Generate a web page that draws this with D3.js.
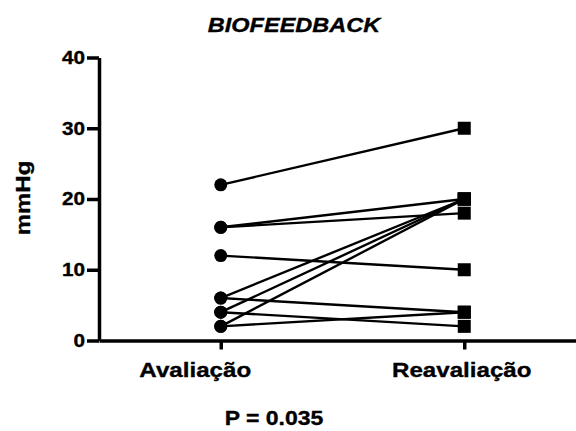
<!DOCTYPE html>
<html>
<head>
<meta charset="utf-8">
<script src="https://cdn.jsdelivr.net/npm/d3@7"></script>
<style>
  body { margin: 0; background: #fff; }
  text { font-family: "Liberation Sans", Arial, sans-serif; font-weight: bold; fill: #000; stroke: #000; stroke-width: 0.35px; }
</style>
</head>
<body>
<script>
// Data
const groups = ["Avaliação", "Reavaliação"];
const avaliacao   = [22, 16, 16, 12, 6, 4, 2, 6, 4, 2];
const reavaliacao = [30, 20, 18, 10, 20, 20, 20, 4, 2, 4];
const yTicks = [0, 10, 20, 30, 40];

const width = 576, height = 431;
const stretch = 1.15; // source image is a bit wider than tall

const svg = d3.select("body").append("svg")
    .attr("width", width)
    .attr("height", height);

// scales
const x = d3.scalePoint().domain(groups).range([99, 586]).padding(0.5);
const y = d3.scaleLinear().domain([0, 40]).range([340.5, 57.5]);

// pairs of values, one per subject
const pairs = avaliacao.map((v, i) => [
    { g: groups[0], v: v },
    { g: groups[1], v: reavaliacao[i] }
]);

// x axis
const xAxis = svg.append("g")
    .attr("transform", `translate(0,${y(0)})`)
    .call(d3.axisBottom(x).tickSize(9).tickPadding(8).tickSizeOuter(0));
xAxis.select(".domain").attr("stroke-width", 3.5);
xAxis.selectAll(".tick line").attr("stroke-width", 3.5);
xAxis.selectAll(".tick text")
    .attr("font-size", 21)
    .attr("dy", "0.95em")
    .attr("transform", (d, i) => `translate(${i === 0 ? -26 : -3},0) scale(${stretch},1)`);

// y axis
const yAxis = svg.append("g")
    .attr("transform", `translate(${x.range()[0]},0)`)
    .call(d3.axisLeft(y).tickValues(yTicks).tickSize(12).tickPadding(2).tickSizeOuter(0));
yAxis.select(".domain").attr("stroke-width", 3.5);
yAxis.selectAll(".tick line").attr("stroke-width", 3.5);
yAxis.selectAll(".tick text")
    .attr("font-size", 18)
    .attr("x", 0)
    .attr("transform", `translate(-14,0) scale(${stretch},1)`);

// connecting lines
const line = d3.line().x(d => x(d.g)).y(d => y(d.v));
svg.append("g")
    .selectAll("path")
    .data(pairs)
    .enter()
    .append("path")
    .attr("d", line)
    .attr("fill", "none")
    .attr("stroke", "#000")
    .attr("stroke-width", 2.4);

// markers: circles before, squares after
svg.append("g")
    .selectAll("circle")
    .data(avaliacao)
    .enter()
    .append("circle")
    .attr("cx", x(groups[0]))
    .attr("cy", d => y(d))
    .attr("r", 6.5)
    .attr("fill", "#000");

svg.append("g")
    .selectAll("rect")
    .data(reavaliacao)
    .enter()
    .append("rect")
    .attr("x", x(groups[1]) - 6.5)
    .attr("y", d => y(d) - 6.5)
    .attr("width", 13)
    .attr("height", 13)
    .attr("fill", "#000");

// title
svg.append("text")
    .attr("transform", `translate(294,32) scale(1.12,1)`)
    .attr("text-anchor", "middle")
    .attr("font-size", 21)
    .style("font-style", "italic")
    .text("BIOFEEDBACK");

// y label
svg.append("text")
    .attr("transform", `translate(30,198) rotate(-90) scale(1.2,1)`)
    .attr("text-anchor", "middle")
    .attr("font-size", 20)
    .text("mmHg");

// p value
svg.append("text")
    .attr("transform", `translate(274,425) scale(${stretch},1)`)
    .attr("text-anchor", "middle")
    .attr("font-size", 20)
    .text("P = 0.035");
</script>
</body>
</html>
